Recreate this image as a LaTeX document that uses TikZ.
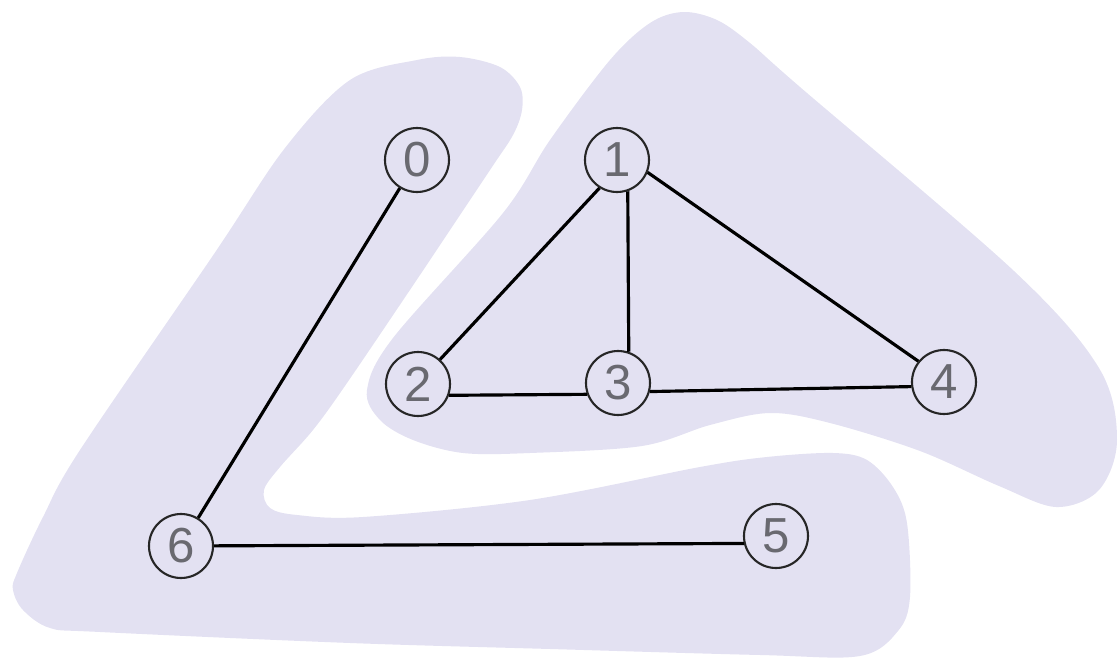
\documentclass[tikz,border=0pt]{standalone}
\usepackage{fontspec}
\setmainfont{Liberation Sans}
\usetikzlibrary{positioning,calc}
\definecolor{blobfill}{RGB}{227,225,242}
\definecolor{labelgray}{RGB}{105,105,112}

\begin{document}
\begin{tikzpicture}[
    font=\fontsize{14}{14}\selectfont,
    vertex/.style={draw=black!85, circle, line width=0.6pt, minimum size=0.64cm, inner sep=0pt, text=labelgray, fill=blobfill},
    edge/.style={draw=black, line width=0.9pt},
    blob/.style={fill=blobfill, draw=none}
]

\useasboundingbox (0,0) rectangle (11.19,6.63);

% components
\fill[blob] plot[smooth cycle, tension=0.55] coordinates {
    (4.60,6.06) (5.00,5.96) (5.20,5.76) (5.22,5.53) (5.13,5.28) (4.90,4.93)
    (4.20,3.88) (3.47,2.80) (3.13,2.33) (2.80,1.96) (2.64,1.73) (2.70,1.55)
    (2.97,1.48) (3.63,1.46) (5.30,1.63) (7.00,1.96) (7.67,2.06) (8.33,2.10)
    (8.67,2.03) (8.93,1.76) (9.07,1.40) (9.10,0.66) (8.98,0.32) (8.60,0.07)
    (7.60,0.08) (5.50,0.14) (3.50,0.20) (1.00,0.31) (0.50,0.35) (0.23,0.53)
    (0.13,0.73) (0.17,0.90) (0.43,1.46) (0.80,2.13) (2.14,4.09) (2.85,5.15)
    (3.50,5.83) (4.17,6.03)};
\fill[blob] plot[smooth cycle, tension=0.55] coordinates {
    (6.83,6.51) (7.17,6.43) (7.50,6.20) (8.00,5.76) (10.14,3.92) (10.99,2.95)
    (11.17,2.23) (10.99,1.73) (10.56,1.56) (9.99,1.77) (9.20,2.12) (8.30,2.40)
    (7.70,2.50) (7.10,2.38) (6.42,2.17) (5.30,2.10) (4.63,2.10) (4.13,2.23)
    (3.80,2.43) (3.67,2.73) (3.93,3.25) (5.03,4.50) (5.50,5.23) (6.10,6.03)
    (6.50,6.40)};

% vertices
\node[vertex] (v0) at (4.17,5.03) {0};
\node[vertex] (v1) at (6.17,5.03) {1};
\node[vertex] (v2) at (4.18,2.79) {2};
\node[vertex] (v3) at (6.18,2.80) {3};
\node[vertex] (v4) at (9.44,2.81) {4};
\node[vertex] (v5) at (7.76,1.27) {5};
\node[vertex] (v6) at (1.81,1.17) {6};

% edges
\draw[edge] (v0) -- (v6);
\draw[edge] (v6) -- (v5.-167);
\draw[edge] (v1.238) -- (v2.48);
\draw[edge] (v1.-71) -- (v3.71);
\draw[edge] (v1.-22) -- (v4.141);
\draw[edge] (v2.-20) -- (v3.-160);
\draw[edge] (v3.-15) -- (v4.-172);

\end{tikzpicture}
\end{document}
